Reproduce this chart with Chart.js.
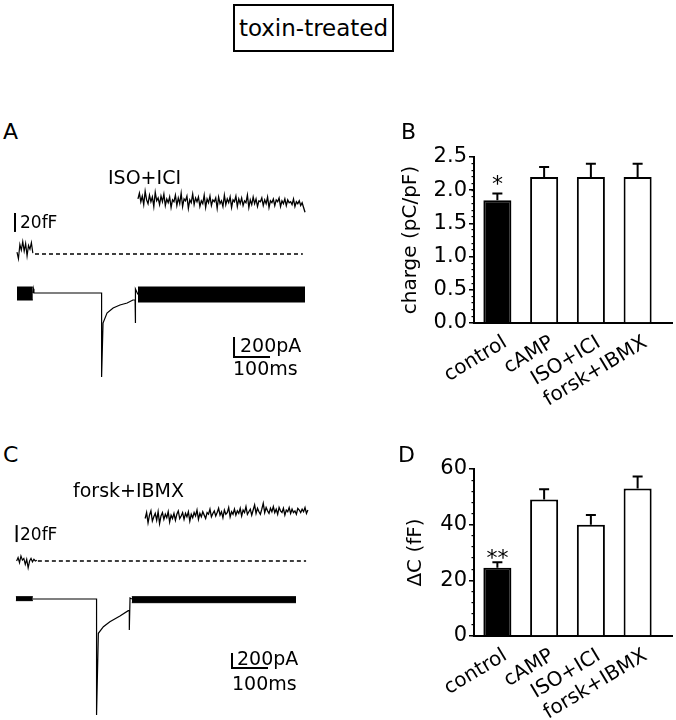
<!DOCTYPE html>
<html>
<head>
<meta charset="utf-8">
<script src="https://cdn.jsdelivr.net/npm/chart.js"></script>
<style>
  body { margin: 0; background: #fff; }
  #fig { position: relative; width: 676px; height: 720px; overflow: hidden; font-family: 'DejaVu Sans', sans-serif; color: #000; }
  #fig canvas { position: absolute; }
  .txt { position: absolute; line-height: 1; white-space: nowrap; }
  #title { position: absolute; left: 233px; top: 4px; width: 161px; height: 48px; box-sizing: border-box; border: 2px solid #000;
           display: flex; align-items: center; justify-content: center; font-size: 23px; }
</style>
</head>
<body>
<div id="fig">
  <div id="title">toxin-treated</div>
  <canvas id="traceA" width="330" height="240" style="left:0;top:150px"></canvas>
  <canvas id="barB" width="346" height="300" style="left:330px;top:130px"></canvas>
  <canvas id="traceC" width="330" height="250" style="left:0;top:470px"></canvas>
  <canvas id="barD" width="346" height="280" style="left:330px;top:440px"></canvas>
</div>
<script>
// bar panels
const categories = ['control', 'cAMP', 'ISO+ICI', 'forsk+IBMX'];
const chargeMean = [1.85, 2.2, 2.2, 2.2];
const chargeSem = [0.1, 0.15, 0.2, 0.2];
const chargeSig = ['*', '', '', ''];
const dCapMean = [24.5, 49, 40, 53];
const dCapSem = [2, 3.7, 3.5, 4.3];
const dCapSig = ['**', '', '', ''];

// example traces (time in ms, capacitance in fF, current in pA)
const capA_pre = [2, -5, 10, 4, 13, 3, 11, -2, 9, 5, 12, 1];
const capA_post = [58, 64, 55, 61, 52, 66, 57, 53, 62, 55,
                   60, 50, 65, 56, 59, 52, 61, 55, 63, 51,
                   58, 54, 60, 49, 57, 55, 62, 51, 59, 53,
                   64, 50, 58, 56, 61, 48, 57, 54, 63, 52,
                   59, 55, 60, 50, 56, 53, 62, 49, 58, 54,
                   61, 51, 57, 55, 59, 48, 60, 53, 56, 50,
                   62, 52, 58, 54, 60, 49, 57, 55, 61, 50,
                   58, 53, 59, 51, 56, 54, 62, 49, 57, 52,
                   60, 53, 58, 50, 56, 55, 59, 51, 57, 53,
                   60, 49, 56, 54, 58, 51, 57, 55, 59, 50,
                   56, 53, 58, 51, 57, 54, 55, 52, 58, 50,
                   55, 53, 56, 51, 54, 49, 44];
const curA_t = [44, 46, 47, 235, 235, 239, 250, 267, 286, 306, 322, 328, 328, 330, 336];
const curA_v = [0, 40, 0, 0, -840, -300, -200, -150, -120, -100, -70, -70, -300, 40, -15];
const curA_preBlock = [0, 44, 60, -70];
const curA_postBlock = [336, 800, 60, -90];

const capC_pre = [0, 4, -2, 6, 1, 3, -4, 2, -8, 0, 3, -1, 2, 0, 1];
const capC_post = [50, 57, 45, 54, 59, 47, 52, 56, 48, 58,
                   44, 53, 57, 49, 55, 51, 58, 46, 54, 50,
                   56, 48, 55, 59, 50, 53, 57, 49, 56, 52,
                   58, 47, 55, 51, 57, 53, 60, 49, 56, 52,
                   58, 54, 50, 57, 55, 61, 52, 56, 59, 53,
                   57, 62, 54, 58, 51, 60, 55, 57, 63, 52,
                   58, 55, 61, 54, 59, 56, 62, 53, 60, 57,
                   64, 55, 58, 61, 54, 60, 66, 56, 62, 58,
                   55, 61, 68, 57, 63, 59, 56, 62, 58, 64,
                   57, 61, 55, 63, 59, 57, 62, 54, 60, 58,
                   63, 56, 61, 57, 59, 55, 62, 60, 57, 61,
                   58, 63, 56, 60];
const curC_t = [44, 221, 221, 226, 240, 258, 286, 309, 312, 312, 314, 319];
const curC_v = [0, 0, -1547, -457, -369, -302, -227, -156, -156, -413, 13, 0];
const curC_preBlock = [-3, 44, 31, -22];
const curC_postBlock = [319, 775, 31, -49];

const barFF = 20, barPA = 200, barMS = 100;

Chart.defaults.font.family = "'DejaVu Sans', sans-serif";
Chart.defaults.color = '#000';

const fig = document.getElementById('fig');
function addText(str, x, cy, size) {
  const d = document.createElement('div');
  d.className = 'txt';
  d.textContent = str;
  d.style.left = x + 'px';
  d.style.top = (cy - 0.48 * size) + 'px';
  d.style.fontSize = size + 'px';
  fig.appendChild(d);
}

function series(t0, dt, vals) { return vals.map((v, i) => ({ x: t0 + i * dt, y: v })); }
function pairs(ts, vs) { return ts.map((t, i) => ({ x: t, y: vs[i] })); }

function traceChart(id, p) {
  const ln = (data, axis, more) => Object.assign({
    data, yAxisID: axis, borderColor: '#000', backgroundColor: '#000',
    borderWidth: 1.2, pointRadius: 0, fill: false, tension: 0
  }, more);
  const band = b => [
    ln([{ x: b[0], y: b[2] }, { x: b[1], y: b[2] }], 'yCur', { fill: '+1', borderWidth: 1 }),
    ln([{ x: b[0], y: b[3] }, { x: b[1], y: b[3] }], 'yCur', { borderWidth: 1 })
  ];
  const cb = p.capBar, ib = p.curBar;
  const datasets = [
    ln(series(p.capPreT0, 4, p.capPre), 'yCap'),
    ln([{ x: p.dash[0], y: 0 }, { x: p.dash[1], y: 0 }], 'yCap', { borderDash: [4, 3], borderWidth: 1.4 }),
    ln(series(p.capPostT0, 4, p.capPost), 'yCap', { borderWidth: 1.3 }),
    ...band(p.preBlock),
    ln(pairs(p.curT, p.curV), 'yCur'),
    ...band(p.postBlock),
    ln([{ x: cb[0], y: cb[1] }, { x: cb[0], y: cb[1] + barFF }], 'yCap', { borderWidth: 2 }),
    ln([{ x: ib[0], y: ib[1] }, { x: ib[0], y: ib[1] - barPA }, { x: ib[0] + barMS, y: ib[1] - barPA }], 'yCur', { borderWidth: 2 })
  ];
  return new Chart(document.getElementById(id), {
    type: 'line',
    data: { datasets },
    options: {
      responsive: false, animation: false, devicePixelRatio: 1, events: [],
      layout: { padding: 0 },
      plugins: { legend: { display: false }, tooltip: { enabled: false } },
      scales: {
        x: { type: 'linear', display: false, min: -47.2, max: 869.4 },
        yCur: { display: false, min: p.cur[0], max: p.cur[1] },
        yCap: { display: false, min: p.cap[0], max: p.cap[1] }
      }
    }
  });
}

const errorBars = {
  id: 'errorBars',
  afterDatasetsDraw(chart, args, opts) {
    const { ctx, scales: { x, y } } = chart;
    const ds = chart.data.datasets[0];
    ctx.save();
    ctx.strokeStyle = '#000';
    ctx.fillStyle = '#000';
    ctx.lineWidth = 2;
    ctx.font = "22px 'DejaVu Sans'";
    ctx.textAlign = 'center';
    chart.getDatasetMeta(0).data.forEach((bar, i) => {
      const top = y.getPixelForValue(ds.data[i] + opts.errors[i]);
      ctx.beginPath();
      ctx.moveTo(bar.x, bar.y);
      ctx.lineTo(bar.x, top);
      ctx.moveTo(bar.x - 5, top);
      ctx.lineTo(bar.x + 5, top);
      ctx.stroke();
      if (opts.marks[i]) ctx.fillText(opts.marks[i], bar.x, top + opts.markShift);
    });
    // axis line runs on a bit past the last bar
    ctx.beginPath();
    ctx.moveTo(x.right - 1, x.top);
    ctx.lineTo(x.right + 12, x.top);
    ctx.stroke();
    ctx.restore();
  }
};

function barChart(id, o) {
  return new Chart(document.getElementById(id), {
    type: 'bar',
    data: {
      labels: categories,
      datasets: [{
        data: o.means, yAxisID: 'y',
        backgroundColor: ['#000', '#fff', '#fff', '#fff'],
        borderColor: '#000', borderWidth: 2, borderSkipped: 'bottom',
        barPercentage: 0.6, categoryPercentage: 1
      }]
    },
    options: {
      responsive: false, animation: false, devicePixelRatio: 1, events: [],
      layout: { padding: { left: 0, right: 15, top: o.padTop, bottom: 0 } },
      plugins: {
        legend: { display: false }, tooltip: { enabled: false },
        errorBars: { errors: o.errors, marks: o.marks, markShift: o.markShift }
      },
      scales: {
        x: {
          afterFit: s => { s.height = o.xHeight; },
          grid: { display: false },
          border: { color: '#000', width: 2 },
          ticks: { color: '#000', font: { size: 20 }, minRotation: 31, maxRotation: 31, autoSkip: false, padding: 0, labelOffset: 8 }
        },
        y: {
          min: 0, max: o.max, weight: 1,
          afterFit: s => { s.width = 144; },
          border: { color: '#000', width: 2 },
          grid: { drawOnChartArea: false, color: '#000', lineWidth: 1.5, tickLength: 5 },
          ticks: { stepSize: o.major, autoSkip: false, color: '#000', font: { size: 21 }, padding: 2, callback: o.fmt },
          title: { display: true, text: o.title, color: '#000', font: { size: 20 }, padding: { top: o.titlePad, bottom: 0 } }
        },
        yMinor: {
          axis: 'y', position: 'left', min: 0, max: o.max, weight: 0,
          afterFit: s => { s.width = 0; },
          border: { display: false },
          grid: { drawOnChartArea: false, color: '#000', lineWidth: 1.2, tickLength: 2.5 },
          ticks: { stepSize: o.minor, autoSkip: false, display: false }
        }
      }
    },
    plugins: [errorBars]
  });
}

traceChart('traceA', {
  cur: [-970, 1430], cap: [-143.2, 109.5],
  capPreT0: 0, capPre: capA_pre, dash: [50, 794], capPostT0: 336, capPost: capA_post,
  preBlock: curA_preBlock, postBlock: curA_postBlock, curT: curA_t, curV: curA_v,
  capBar: [-5.6, 23.2], curBar: [602.8, -440]
});
traceChart('traceC', {
  cur: [-1613.3, 1720], cap: [-187.1, 107.1],
  capPreT0: -1, capPre: capC_pre, dash: [58, 803], capPostT0: 356, capPost: capC_post,
  preBlock: curC_preBlock, postBlock: curC_postBlock, curT: curC_t, curV: curC_v,
  capBar: [-1, 22.3], curBar: [597.2, -720]
});

barChart('barB', {
  means: chargeMean, errors: chargeSem, marks: chargeSig, markShift: -3, max: 2.5, major: 0.5, minor: 0.1,
  fmt: v => v.toFixed(1), title: 'charge (pC/pF)', titlePad: 69, padTop: 27, xHeight: 107
});
barChart('barD', {
  means: dCapMean, errors: dCapSem, marks: dCapSig, markShift: 3, max: 60, major: 20, minor: 4,
  fmt: v => String(Math.round(v)), title: 'ΔC (fF)', titlePad: 74, padTop: 29, xHeight: 84
});

addText('A', 3, 132, 22);
addText('B', 401, 132, 22);
addText('C', 3, 455, 22);
addText('D', 398, 455, 22);
addText('ISO+ICI', 108, 177, 19);
addText('20fF', 20, 222, 17);
addText('200pA', 240, 345, 19);
addText('100ms', 233, 368, 19);
addText('forsk+IBMX', 73, 490, 19);
addText('20fF', 20, 534, 17);
addText('200pA', 237, 658, 19);
addText('100ms', 232, 683, 19);
</script>
</body>
</html>
